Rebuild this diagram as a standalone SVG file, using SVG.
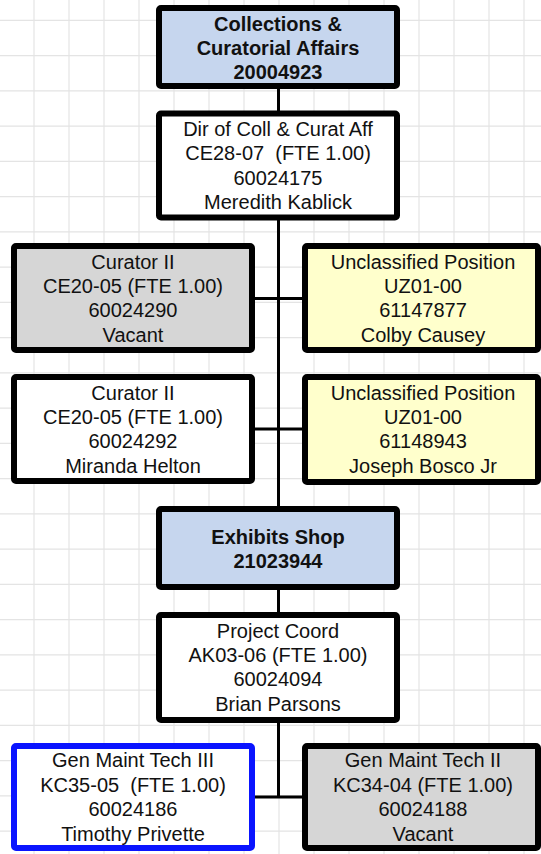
<svg xmlns="http://www.w3.org/2000/svg" width="541" height="854" viewBox="0 0 541 854">
<style>
.grid{stroke:#e4e4e4;stroke-width:1.2;fill:none}
.conn{stroke:#000;stroke-width:3;fill:none}
.box{stroke:#000;stroke-width:6}
.hdr{fill:#c6d6ee}
.wht{fill:#fff}
.gry{fill:#d6d6d6}
.yel{fill:#ffffcc}
.blu{fill:#fff;stroke:#0a14ff}
text{font-family:"Liberation Sans",Arial,sans-serif;font-size:20px;fill:#111;text-anchor:middle}
.b{font-weight:bold}
</style>
<rect width="541" height="854" fill="#fff"/>
<g id="grid" class="grid">
<path d="M34 0V854M69 0V854M104 0V854M139 0V854M174 0V854M209 0V854M244 0V854M279 0V854M314 0V854M349 0V854M384 0V854M419 0V854M454 0V854M489 0V854M524 0V854"/>
<path d="M0 20.3H541M0 55.55H541M0 90.8H541M0 126.05H541M0 161.3H541M0 196.55H541M0 231.8H541M0 267.05H541M0 302.3H541M0 337.55H541M0 372.8H541M0 408.05H541M0 443.3H541M0 478.55H541M0 513.8H541M0 549.05H541M0 584.3H541M0 619.55H541M0 654.8H541M0 690.05H541M0 725.3H541M0 760.55H541M0 795.8H541M0 831.05H541"/>
</g>
<g id="connectors" class="conn">
<path d="M278.5 89V797"/>
<path d="M255 298.5H302"/>
<path d="M255 429H302"/>
<path d="M255 797H302"/>
</g>
<g id="n-collections">
<rect class="box hdr" x="159" y="8" width="238" height="78" rx="2"/>
<text class="b" x="278" y="30.5">Collections &amp;</text>
<text class="b" x="278" y="55">Curatorial Affairs</text>
<text class="b" x="278" y="79.3">20004923</text>
</g>
<g id="n-dir">
<rect class="box wht" x="159" y="113.5" width="238" height="104" rx="2"/>
<text x="278" y="136">Dir of Coll &amp; Curat Aff</text>
<text x="278" y="160.4" xml:space="preserve">CE28-07  (FTE 1.00)</text>
<text x="278" y="184.8">60024175</text>
<text x="278" y="209.2">Meredith Kablick</text>
</g>
<g id="n-curator-vacant">
<rect class="box gry" x="14" y="246" width="238" height="104" rx="2"/>
<text x="133" y="268.5">Curator II</text>
<text x="133" y="292.9">CE20-05 (FTE 1.00)</text>
<text x="133" y="317.3">60024290</text>
<text x="133" y="341.7">Vacant</text>
</g>
<g id="n-colby">
<rect class="box yel" x="305" y="246" width="233" height="104" rx="2"/>
<text x="423" y="268.5">Unclassified Position</text>
<text x="423" y="292.9">UZ01-00</text>
<text x="423" y="317.3">61147877</text>
<text x="423" y="341.7">Colby Causey</text>
</g>
<g id="n-miranda">
<rect class="box wht" x="14" y="377" width="238" height="104" rx="2"/>
<text x="133" y="399.5">Curator II</text>
<text x="133" y="423.9">CE20-05 (FTE 1.00)</text>
<text x="133" y="448.3">60024292</text>
<text x="133" y="472.7">Miranda Helton</text>
</g>
<g id="n-joseph">
<rect class="box yel" x="305" y="377" width="233" height="105" rx="2"/>
<text x="423" y="399.5">Unclassified Position</text>
<text x="423" y="423.9">UZ01-00</text>
<text x="423" y="448.3">61148943</text>
<text x="423" y="472.7">Joseph Bosco Jr</text>
</g>
<g id="n-exhibits">
<rect class="box hdr" x="159" y="509" width="238" height="78" rx="2"/>
<text class="b" x="278" y="544">Exhibits Shop</text>
<text class="b" x="278" y="568.4">21023944</text>
</g>
<g id="n-project">
<rect class="box wht" x="159" y="615" width="238" height="105" rx="2"/>
<text x="278" y="637.5">Project Coord</text>
<text x="278" y="661.9">AK03-06 (FTE 1.00)</text>
<text x="278" y="686.3">60024094</text>
<text x="278" y="710.7">Brian Parsons</text>
</g>
<g id="n-timothy">
<rect class="box blu" x="14" y="746" width="238" height="102" rx="2"/>
<text x="133" y="767.3">Gen Maint Tech III</text>
<text x="133" y="791.7" xml:space="preserve">KC35-05  (FTE 1.00)</text>
<text x="133" y="816.1">60024186</text>
<text x="133" y="840.5">Timothy Privette</text>
</g>
<g id="n-genmaint2">
<rect class="box gry" x="305" y="746" width="233" height="102" rx="2"/>
<text x="423" y="767.3">Gen Maint Tech II</text>
<text x="423" y="791.7">KC34-04 (FTE 1.00)</text>
<text x="423" y="816.1">60024188</text>
<text x="423" y="840.5">Vacant</text>
</g>
</svg>
